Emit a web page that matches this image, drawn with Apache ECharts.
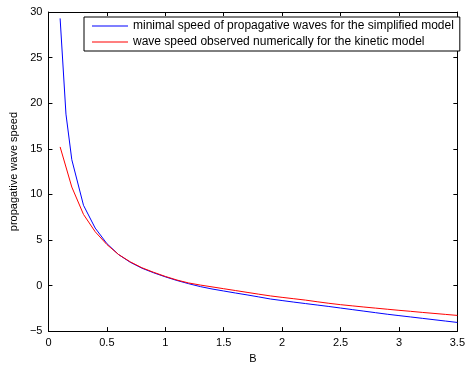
<!DOCTYPE html>
<html>
<head>
<meta charset="utf-8">
<script src="https://cdn.jsdelivr.net/npm/echarts@6/dist/echarts.min.js"></script>
<style>
  html, body { margin: 0; padding: 0; background: #fff; }
  #main { width: 468px; height: 369px; }
</style>
</head>
<body>
<div id="main"></div>
<script>
// data
var blueB = [0.1, 0.15, 0.2, 0.3, 0.4, 0.5, 0.6, 0.7, 0.8, 0.9, 1.0, 1.1, 1.2, 1.3, 1.4, 1.5, 1.6, 1.7, 1.8, 1.9,
             2.0, 2.1, 2.2, 2.3, 2.4, 2.5, 2.6, 2.7, 2.8, 2.9, 3.0, 3.1, 3.2, 3.3, 3.4, 3.5];
var blueSpeed = [29.3, 18.8, 13.8, 8.8, 6.3, 4.6, 3.4, 2.55, 1.9, 1.4, 0.95, 0.55, 0.2, -0.12, -0.38, -0.6, -0.82, -1.03, -1.25, -1.48,
                 -1.65, -1.82, -1.98, -2.14, -2.3, -2.47, -2.64, -2.81, -2.98, -3.15, -3.3, -3.45, -3.6, -3.75, -3.9, -4.05];
var redB = [0.1, 0.2, 0.3, 0.4, 0.5, 0.6, 0.7, 0.8, 0.9, 1.0, 1.1, 1.2, 1.3, 1.4, 1.5, 1.6, 1.7, 1.8, 1.9,
            2.0, 2.1, 2.2, 2.3, 2.4, 2.5, 2.6, 2.7, 2.8, 2.9, 3.0, 3.1, 3.2, 3.3, 3.4, 3.5];
var redSpeed = [15.2, 10.8, 7.8, 5.9, 4.5, 3.4, 2.6, 1.95, 1.45, 1.0, 0.6, 0.28, 0.05, -0.15, -0.35, -0.55, -0.75, -0.95, -1.14,
                -1.3, -1.45, -1.6, -1.78, -1.95, -2.1, -2.23, -2.36, -2.48, -2.6, -2.72, -2.83, -2.95, -3.06, -3.17, -3.28];
var blueName = 'minimal speed of propagative waves for the simplified model';
var redName = 'wave speed observed numerically for the kinetic model';

function pairs(xs, ys) {
    return xs.map(function (x, i) { return [x, ys[i]]; });
}
function minus(v) {
    return String(v).replace('-', '\u2212');
}

var font = 'Liberation Sans, Arial, Helvetica, sans-serif';
var tick = { show: true, inside: true, length: 4, lineStyle: { color: '#000' } };
var line = { show: true, onZero: false, lineStyle: { color: '#000', width: 1 } };

var myChart = echarts.init(document.getElementById('main'));
myChart.setOption({
    animation: false,
    backgroundColor: '#fff',
    grid: { left: 44, right: 8, top: 12, bottom: 29 },
    legend: {
        data: [blueName, redName],
        orient: 'vertical',
        left: 84, top: 17,
        padding: [2, 6, 2, 8],
        itemGap: 2,
        icon: 'rect',
        itemWidth: 36, itemHeight: 1,
        backgroundColor: '#fff',
        borderColor: '#000', borderWidth: 1,
        textStyle: { fontFamily: font, fontSize: 12, color: '#000', lineHeight: 14 }
    },
    xAxis: [{
        type: 'value', min: 0, max: 3.5, interval: 0.5,
        name: 'B', nameLocation: 'middle', nameGap: 17,
        nameTextStyle: { fontFamily: font, fontSize: 11, color: '#000' },
        axisLine: line, axisTick: tick, splitLine: { show: false },
        axisLabel: { margin: 6, fontFamily: font, fontSize: 11, color: '#000', formatter: minus }
    }, {
        type: 'value', position: 'top', min: 0, max: 3.5, interval: 0.5,
        axisLine: line, axisTick: tick, splitLine: { show: false }, axisLabel: { show: false }
    }],
    yAxis: [{
        type: 'value', min: -5, max: 30, interval: 5,
        name: 'propagative wave speed', nameLocation: 'middle', nameGap: 28,
        nameTextStyle: { fontFamily: font, fontSize: 11, color: '#000' },
        axisLine: line, axisTick: tick, splitLine: { show: false },
        axisLabel: { margin: 6, fontFamily: font, fontSize: 11, color: '#000', formatter: minus }
    }, {
        type: 'value', position: 'right', min: -5, max: 30, interval: 5,
        axisLine: line, axisTick: tick, splitLine: { show: false }, axisLabel: { show: false }
    }],
    series: [{
        name: blueName,
        type: 'line',
        data: pairs(blueB, blueSpeed),
        symbol: 'none',
        color: '#0000ff',
        lineStyle: { color: '#0000ff', width: 1 }
    }, {
        name: redName,
        type: 'line',
        data: pairs(redB, redSpeed),
        symbol: 'none',
        color: '#ff0000',
        lineStyle: { color: '#ff0000', width: 1 }
    }]
});
</script>
</body>
</html>
